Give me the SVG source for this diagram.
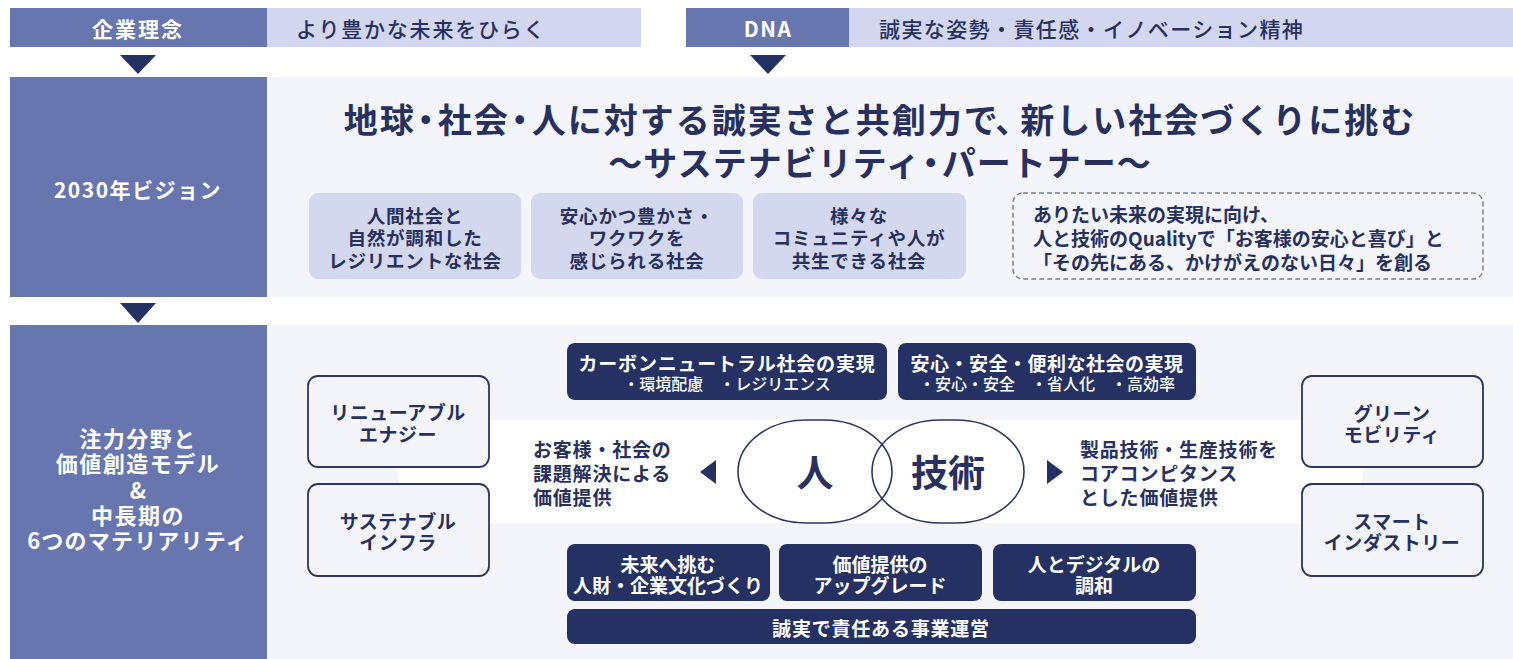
<svg xmlns="http://www.w3.org/2000/svg" width="1513" height="659" viewBox="0 0 1513 659">
<style>
text{font-family:"Noto Sans CJK JP","Noto Sans",sans-serif;dominant-baseline:central;}
.w{fill:#ffffff;font-weight:700;}
.n{fill:#27305f;font-weight:700;}
.m{fill:#27305f;font-weight:500;}
.c{text-anchor:middle;}
.dark{fill:#6876b0;}
.light{fill:#d2d6ee;}
.bg{fill:#f4f5fa;}
.navy{fill:#263163;}
.vbox{fill:#d4d8ef;}
.obox{fill:#f4f5fa;stroke:#2c3564;stroke-width:1.8;}
.arr{fill:#263163;}
</style>
<rect width="1513" height="659" fill="#ffffff"/>

<g id="philosophy">
<rect class="dark" x="10" y="8" width="257" height="39"/>
<rect class="light" x="267" y="8" width="374" height="39"/>
<text class="w c" x="138" y="28" font-size="21" letter-spacing="2">企業理念</text>
<text class="m" x="296" y="28" font-size="21" letter-spacing="1.8">より豊かな未来をひらく</text>
</g>

<g id="dna">
<rect class="dark" x="686" y="8" width="163" height="39"/>
<rect class="light" x="849" y="8" width="664" height="39"/>
<text class="w c" x="768" y="28" font-size="21" letter-spacing="1.5">DNA</text>
<text class="m" x="879" y="28" font-size="21" letter-spacing="1.4">誠実な姿勢・責任感・イノベーション精神</text>
</g>

<g id="vision">
<rect class="dark" x="10" y="77" width="257" height="220"/>
<rect class="bg" x="267" y="77" width="1246" height="220"/>
<text class="w c" x="138" y="189" font-size="21" letter-spacing="1.5">2030年ビジョン</text>
<text class="n c" x="880" y="118" font-size="34" letter-spacing="2">地球<tspan dx="-7">・</tspan><tspan dx="-7">社会</tspan><tspan dx="-7">・</tspan><tspan dx="-7">人に対する誠実さと共創力で</tspan><tspan dx="-3">、</tspan><tspan dx="-11">新しい社会づくりに挑む</tspan></text>
<text class="n c" x="880" y="161" font-size="34" letter-spacing="1">〜サステナビリティ<tspan dx="-7">・</tspan><tspan dx="-7">パートナー〜</tspan></text>
</g>

<g id="vision1">
<rect class="vbox" x="309" y="193" width="212" height="86" rx="9"/>
<text class="n c" x="415" y="215" font-size="18.5" letter-spacing="0.8">人間社会と</text>
<text class="n c" x="415" y="237" font-size="18.5" letter-spacing="0.8">自然が調和した</text>
<text class="n c" x="415" y="260" font-size="18.5" letter-spacing="0.8">レジリエントな社会</text>
</g>
<g id="vision2">
<rect class="vbox" x="531" y="193" width="212" height="86" rx="9"/>
<text class="n c" x="637" y="215" font-size="18.5" letter-spacing="0.8">安心かつ豊かさ・</text>
<text class="n c" x="637" y="237" font-size="18.5" letter-spacing="0.8">ワクワクを</text>
<text class="n c" x="637" y="260" font-size="18.5" letter-spacing="0.8">感じられる社会</text>
</g>
<g id="vision3">
<rect class="vbox" x="753" y="193" width="213" height="86" rx="9"/>
<text class="n c" x="859" y="215" font-size="18.5" letter-spacing="0.8">様々な</text>
<text class="n c" x="859" y="237" font-size="18.5" letter-spacing="0.8">コミュニティや人が</text>
<text class="n c" x="859" y="260" font-size="18.5" letter-spacing="0.8">共生できる社会</text>
</g>
<g id="vision-note">
<rect x="1013" y="193" width="470" height="86" rx="10" fill="none" stroke="#7a7f97" stroke-width="1.5" stroke-dasharray="5 3"/>
<text class="n" x="1033" y="213" font-size="19">ありたい未来の実現に向け、</text>
<text class="n" x="1033" y="237" font-size="19">人と技術のQualityで「お客様の安心と喜び」と</text>
<text class="n" x="1033" y="261" font-size="19">「その先にある、かけがえのない日々」を創る</text>
</g>

<g id="materiality">
<rect class="dark" x="10" y="325" width="257" height="334"/>
<rect class="bg" x="267" y="325" width="1246" height="334"/>
<text class="w c" x="138" y="437" font-size="22" letter-spacing="1.5">注力分野と</text>
<text class="w c" x="138" y="462" font-size="22" letter-spacing="1.5">価値創造モデル</text>
<text class="w c" x="138" y="489" font-size="22">&amp;</text>
<text class="w c" x="138" y="514" font-size="22" letter-spacing="1.5">中長期の</text>
<text class="w c" x="138" y="539" font-size="22" letter-spacing="1.2">6つのマテリアリティ</text>
<rect x="398" y="420" width="965" height="103" rx="51.5" fill="#ffffff"/>
</g>

<g id="renewable">
<rect class="obox" x="308" y="376" width="181" height="91" rx="10"/>
<text class="n c" x="398" y="411" font-size="19" letter-spacing="0.5">リニューアブル</text>
<text class="n c" x="398" y="433" font-size="19" letter-spacing="0.5">エナジー</text>
</g>
<g id="infra">
<rect class="obox" x="308" y="484" width="181" height="92" rx="10"/>
<text class="n c" x="398" y="520" font-size="19" letter-spacing="0.5">サステナブル</text>
<text class="n c" x="398" y="541" font-size="19" letter-spacing="0.5">インフラ</text>
</g>
<g id="mobility">
<rect class="obox" x="1302" y="376" width="181" height="91" rx="10"/>
<text class="n c" x="1392" y="412" font-size="19" letter-spacing="0.5">グリーン</text>
<text class="n c" x="1392" y="433" font-size="19" letter-spacing="0.5">モビリティ</text>
</g>
<g id="industry">
<rect class="obox" x="1302" y="484" width="181" height="92" rx="10"/>
<text class="n c" x="1392" y="520" font-size="19" letter-spacing="0.5">スマート</text>
<text class="n c" x="1392" y="541" font-size="19" letter-spacing="0.5">インダストリー</text>
</g>

<g id="carbon">
<rect class="navy" x="567" y="343" width="320" height="57" rx="8"/>
<text class="w c" x="727" y="362" font-size="19" letter-spacing="0.8">カーボンニュートラル社会の実現</text>
<text class="c" x="727" y="383" font-size="16" fill="#ffffff" font-weight="500">・環境配慮　・レジリエンス</text>
</g>
<g id="safety">
<rect class="navy" x="898" y="343" width="298" height="57" rx="8"/>
<text class="w c" x="1047" y="362" font-size="19" letter-spacing="0.5">安心・安全・便利な社会の実現</text>
<text class="c" x="1047" y="383" font-size="16" fill="#ffffff" font-weight="500">・安心・安全　・省人化　・高効率</text>
</g>

<g id="customer-value">
<text class="n" x="533" y="448" font-size="19" letter-spacing="0.8">お客様・社会の</text>
<text class="n" x="533" y="472" font-size="19" letter-spacing="0.8">課題解決による</text>
<text class="n" x="533" y="496" font-size="19" letter-spacing="0.8">価値提供</text>
</g>
<g id="people">
<rect x="738" y="420" width="154" height="103" rx="68" ry="51.5" fill="none" stroke="#2c3564" stroke-width="1.6"/>
<text class="n c" x="815" y="471" font-size="37">人</text>
</g>
<g id="technology">
<rect x="872" y="420" width="152" height="103" rx="68" ry="51.5" fill="none" stroke="#2c3564" stroke-width="1.6"/>
<text class="n c" x="948" y="471" font-size="37">技術</text>
</g>
<g id="tech-value">
<text class="n" x="1080" y="448" font-size="19" letter-spacing="0.8">製品技術・生産技術を</text>
<text class="n" x="1080" y="472" font-size="19" letter-spacing="0.8">コアコンピタンス</text>
<text class="n" x="1080" y="496" font-size="19" letter-spacing="0.8">とした価値提供</text>
</g>

<g id="talent">
<rect class="navy" x="567" y="544" width="203" height="57" rx="8"/>
<text class="w c" x="668" y="563" font-size="19">未来へ挑む</text>
<text class="w c" x="668" y="584" font-size="19">人財・企業文化づくり</text>
</g>
<g id="upgrade">
<rect class="navy" x="779" y="544" width="203" height="57" rx="8"/>
<text class="w c" x="880" y="563" font-size="19">価値提供の</text>
<text class="w c" x="880" y="584" font-size="19">アップグレード</text>
</g>
<g id="digital">
<rect class="navy" x="993" y="544" width="203" height="57" rx="8"/>
<text class="w c" x="1094" y="563" font-size="19">人とデジタルの</text>
<text class="w c" x="1094" y="584" font-size="19">調和</text>
</g>
<g id="governance">
<rect class="navy" x="567" y="609" width="629" height="35" rx="8"/>
<text class="w c" x="881" y="627" font-size="19" letter-spacing="0.8">誠実で責任ある事業運営</text>
</g>

<g id="connectors">
<polygon class="arr" points="120,55 156,55 138,74"/>
<polygon class="arr" points="750,55 786,55 768,74"/>
<polygon class="arr" points="120,303 156,303 138,323"/>
<polygon class="arr" points="716,460 716,484 700,472"/>
<polygon class="arr" points="1047,460 1047,484 1063,472"/>
</g>
</svg>
